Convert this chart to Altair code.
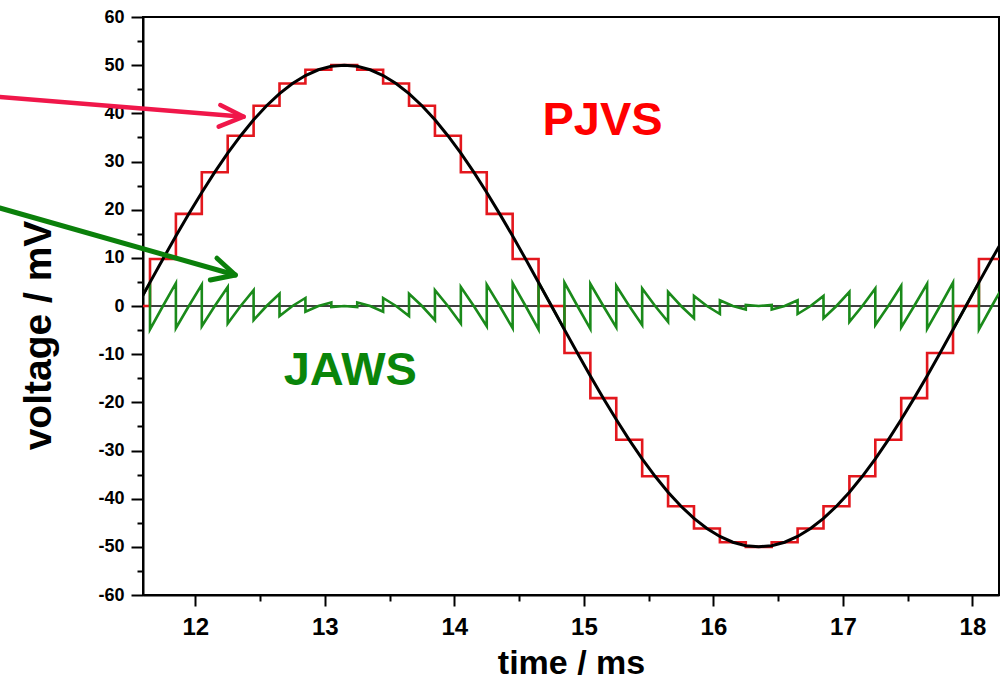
import altair as alt
import pandas as pd

# ---------------- data ----------------
# reference sine (black), time in ms, voltage in mV
sine_t = [11.45, 11.55, 11.65, 11.75, 11.85, 11.95, 12.05, 12.15, 12.25, 12.35,
          12.45, 12.55, 12.65, 12.75, 12.85, 12.95, 13.05, 13.15, 13.25, 13.35,
          13.45, 13.55, 13.65, 13.75, 13.85, 13.95, 14.05, 14.15, 14.25, 14.35,
          14.45, 14.55, 14.65, 14.75, 14.85, 14.95, 15.05, 15.15, 15.25, 15.35,
          15.45, 15.55, 15.65, 15.75, 15.85, 15.95, 16.05, 16.15, 16.25, 16.35,
          16.45, 16.55, 16.65, 16.75, 16.85, 16.95, 17.05, 17.15, 17.25, 17.35,
          17.45, 17.55, 17.65, 17.75, 17.85, 17.95, 18.05, 18.15, 18.25]
sine_v = [-4.90, 0.00, 4.90, 9.75, 14.51, 19.13, 23.57, 27.78, 31.72, 35.36,
          38.65, 41.57, 44.10, 46.19, 47.85, 49.04, 49.76, 50.00, 49.76, 49.04,
          47.85, 46.19, 44.10, 41.57, 38.65, 35.36, 31.72, 27.78, 23.57, 19.13,
          14.51, 9.75, 4.90, 0.00, -4.90, -9.75, -14.51, -19.13, -23.57, -27.78,
          -31.72, -35.36, -38.65, -41.57, -44.10, -46.19, -47.85, -49.04, -49.76, -50.00,
          -49.76, -49.04, -47.85, -46.19, -44.10, -41.57, -38.65, -35.36, -31.72, -27.78,
          -23.57, -19.13, -14.51, -9.75, -4.90, 0.00, 4.90, 9.75, 14.51]

# PJVS staircase (red): step start times and levels
pjvs_t = [11.45, 11.65, 11.85, 12.05, 12.25, 12.45, 12.65, 12.85, 13.05, 13.25,
          13.45, 13.65, 13.85, 14.05, 14.25, 14.45, 14.65, 14.85, 15.05, 15.25,
          15.45, 15.65, 15.85, 16.05, 16.25, 16.45, 16.65, 16.85, 17.05, 17.25,
          17.45, 17.65, 17.85, 18.05, 18.25]
pjvs_v = [0, 9.75, 19.13, 27.78, 35.36, 41.57, 46.19, 49.04, 50.0, 49.04,
          46.19, 41.57, 35.36, 27.78, 19.13, 9.75, 0, -9.75, -19.13, -27.78,
          -35.36, -41.57, -46.19, -49.04, -50.0, -49.04, -46.19, -41.57, -35.36, -27.78,
          -19.13, -9.75, 0, 9.75, 9.75]

# JAWS trace (green sawtooth)
jaws_t = [11.45, 11.55, 11.65,
          11.65, 11.75, 11.85, 11.85, 11.95, 12.05, 12.05, 12.15, 12.25,
          12.25, 12.35, 12.45, 12.45, 12.55, 12.65, 12.65, 12.75, 12.85,
          12.85, 12.95, 13.05, 13.05, 13.15, 13.25, 13.25, 13.35, 13.45,
          13.45, 13.55, 13.65, 13.65, 13.75, 13.85, 13.85, 13.95, 14.05,
          14.05, 14.15, 14.25, 14.25, 14.35, 14.45, 14.45, 14.55, 14.65,
          14.65, 14.75, 14.85, 14.85, 14.95, 15.05, 15.05, 15.15, 15.25,
          15.25, 15.35, 15.45, 15.45, 15.55, 15.65, 15.65, 15.75, 15.85,
          15.85, 15.95, 16.05, 16.05, 16.15, 16.25, 16.25, 16.35, 16.45,
          16.45, 16.55, 16.65, 16.65, 16.75, 16.85, 16.85, 16.95, 17.05,
          17.05, 17.15, 17.25, 17.25, 17.35, 17.45, 17.45, 17.55, 17.65,
          17.65, 17.75, 17.85, 17.85, 17.95, 18.05, 18.05, 18.15, 18.25]
jaws_v = [-4.90, 0, 4.90,
          -4.85, 0, 4.76, -4.62, 0, 4.44, -4.21, 0, 3.94,
          -3.64, 0, 3.29, -2.92, 0, 2.53, -2.09, 0, 1.66,
          -1.19, 0, 0.72, -0.24, 0, -0.24, 0.72, 0, -1.19,
          1.66, 0, -2.09, 2.53, 0, -2.92, 3.29, 0, -3.64,
          3.94, 0, -4.21, 4.44, 0, -4.62, 4.76, 0, -4.85,
          4.90, 0, -4.90, 4.85, 0, -4.76, 4.62, 0, -4.44,
          4.21, 0, -3.94, 3.64, 0, -3.29, 2.92, 0, -2.53,
          2.09, 0, -1.66, 1.19, 0, -0.72, 0.24, 0, 0.24,
          -0.72, 0, 1.19, -1.66, 0, 2.09, -2.53, 0, 2.92,
          -3.29, 0, 3.64, -3.94, 0, 4.21, -4.44, 0, 4.62,
          -4.76, 0, 4.85, -4.90, 0, 4.90, -4.85, 0, 4.76]

# annotation arrows (shaft + open head), in data units
red_arrow_t = [10.49, 12.373, 12.193, 12.373, 12.180]
red_arrow_v = [43.39, 39.30, 41.73, 39.30, 37.23]
red_arrow_part = ["shaft", "shaft", "head", "head", "head"]
green_arrow_t = [10.49, 12.309, 12.167, 12.309, 12.116]
green_arrow_v = [20.35, 6.44, 9.91, 6.44, 5.40]
green_arrow_part = ["shaft", "shaft", "head", "head", "head"]

label_text = ["PJVS", "JAWS"]
label_t = [15.144, 13.196]
label_v = [35.6, -16.4]
label_color = ["#FF0000", "#0A850A"]

x_major = [12, 13, 14, 15, 16, 17, 18]
x_minor = [12.5, 13.5, 14.5, 15.5, 16.5, 17.5]
y_major = [-60, -50, -40, -30, -20, -10, 0, 10, 20, 30, 40, 50, 60]
y_minor = [-55, -45, -35, -25, -15, -5, 5, 15, 25, 35, 45, 55]

# ---------------- tables ----------------
sine_df = pd.DataFrame({"t": sine_t, "v": sine_v})
pjvs_df = pd.DataFrame({"t": pjvs_t, "v": pjvs_v})
jaws_df = pd.DataFrame({"t": jaws_t, "v": jaws_v, "i": list(range(len(jaws_t)))})
red_arrow_df = pd.DataFrame({"t": red_arrow_t, "v": red_arrow_v, "part": red_arrow_part,
                             "i": list(range(len(red_arrow_t)))})
green_arrow_df = pd.DataFrame({"t": green_arrow_t, "v": green_arrow_v, "part": green_arrow_part,
                               "i": list(range(len(green_arrow_t)))})
label_df = pd.DataFrame({"text": label_text, "t": label_t, "v": label_v, "c": label_color})
zero_df = pd.DataFrame({"v": [0]})

FONT = "Liberation Sans"
xs = alt.Scale(domain=[11.596, 18.205], nice=False, zero=False)
ys = alt.Scale(domain=[-60, 60], nice=False, zero=False)

X = alt.X("t:Q", scale=xs, axis=None)
Y = alt.Y("v:Q", scale=ys, axis=None)

zero = alt.Chart(zero_df).mark_rule(color="black", strokeWidth=1.5).encode(y=alt.Y("v:Q", scale=ys, axis=None))

pjvs = alt.Chart(pjvs_df).mark_line(color="#E3171D", strokeWidth=2.6, interpolate="step-after",
                                    clip=True).encode(x=X, y=Y)

jaws = alt.Chart(jaws_df).mark_line(color="#1A8A1A", strokeWidth=2.6, clip=True,
                                    strokeJoin="miter").encode(x=X, y=Y, order="i:Q")

sine = alt.Chart(sine_df).mark_line(color="black", strokeWidth=3, clip=True).encode(
    x=alt.X("t:Q", scale=xs,
            axis=alt.Axis(values=x_major, labelExpr="'' + datum.value", orient="bottom", grid=False,
                          tickSize=11, tickWidth=2, tickColor="black",
                          domainColor="black", domainWidth=2,
                          labelFont=FONT, labelFontSize=24, labelFontWeight="bold",
                          labelColor="black", labelPadding=9, labelFlush=False,
                          labelOverlap=False,
                          title="time / ms", titleFont=FONT, titleFontSize=34,
                          titleFontWeight="bold", titleColor="black",
                          titleX=428, titleY=78, titleBaseline="alphabetic",
                          titleAlign="center")),
    y=alt.Y("v:Q", scale=ys,
            axis=alt.Axis(values=y_major, labelExpr="'' + datum.value", orient="left", grid=False,
                          tickSize=12, tickWidth=2, tickColor="black",
                          domainColor="black", domainWidth=2,
                          labelFont=FONT, labelFontSize=18, labelFontWeight="bold",
                          labelColor="black", labelPadding=7, labelFlush=False,
                          labelOverlap=False,
                          title="voltage / mV", titleFont=FONT, titleFontSize=39,
                          titleFontWeight="bold", titleColor="black",
                          titleAngle=270, titleX=-93, titleY=318,
                          titleBaseline="alphabetic", titleAlign="center")),
)

minor = alt.Chart(sine_df).mark_point(opacity=0).encode(
    x=alt.X("t:Q", scale=xs,
            axis=alt.Axis(values=x_minor, orient="bottom", labels=False, domain=False,
                          grid=False, tickSize=6, tickWidth=2, tickColor="black",
                          title=None)),
    y=alt.Y("v:Q", scale=ys,
            axis=alt.Axis(values=y_minor, orient="left", labels=False, domain=False,
                          grid=False, tickSize=6, tickWidth=2, tickColor="black",
                          title=None)),
)

red_arrow = alt.Chart(red_arrow_df).mark_line(color="#F0174A", strokeWidth=4.5, clip=False,
                                              strokeCap="round", strokeJoin="round").encode(
    x=X, y=Y, detail="part:N", order="i:Q")
green_arrow = alt.Chart(green_arrow_df).mark_line(color="#0B800B", strokeWidth=5, clip=False,
                                                  strokeCap="round", strokeJoin="round").encode(
    x=X, y=Y, detail="part:N", order="i:Q")

labels = alt.Chart(label_df).mark_text(font=FONT, fontSize=47, fontWeight="bold",
                                       align="center", baseline="alphabetic").encode(
    x=X, y=Y, text="text:N", color=alt.Color("c:N", scale=None, legend=None))

chart = alt.layer(zero, pjvs, jaws, sine, minor, red_arrow, green_arrow, labels).resolve_axis(
    x="independent", y="independent"
).properties(
    width=856, height=578,
    autosize=alt.AutoSizeParams(type="none"),
    padding={"left": 143, "top": 17, "right": 1, "bottom": 98},
    background="white",
).configure_view(stroke="black", strokeWidth=2)

chart.save("out.html", embed_options={"renderer": "svg", "actions": False})
